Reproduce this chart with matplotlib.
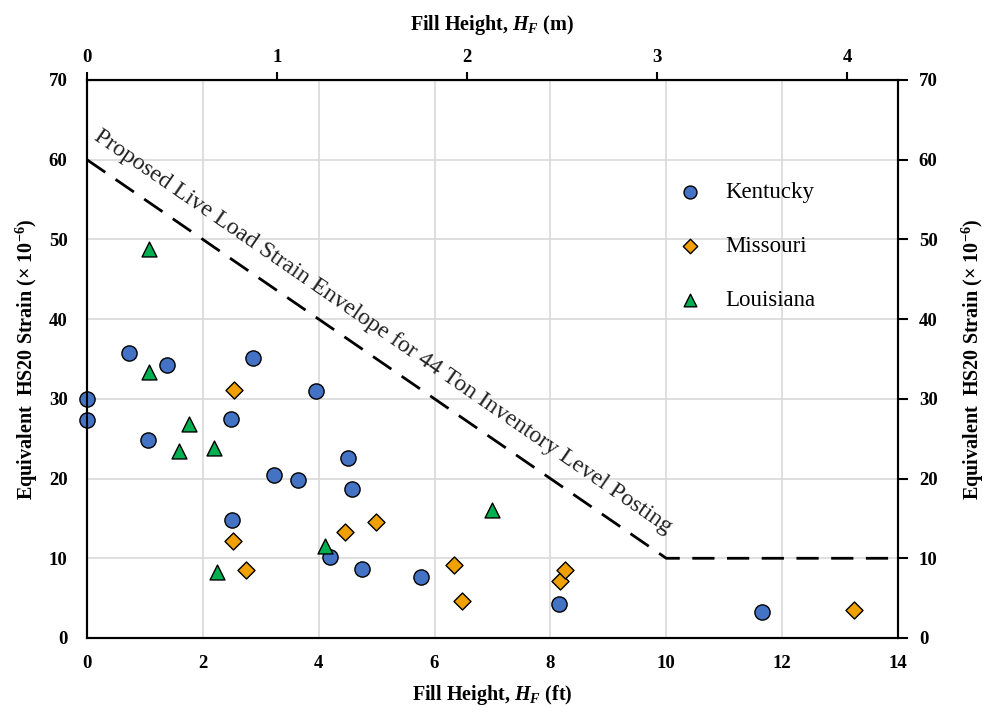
import matplotlib
matplotlib.use("Agg")
import matplotlib.pyplot as plt
import numpy as np

plt.rcParams['font.family'] = ['Liberation Serif', 'DejaVu Serif']
plt.rcParams['mathtext.fontset'] = 'custom'
plt.rcParams['mathtext.rm'] = 'Liberation Serif:bold'
plt.rcParams['mathtext.it'] = 'Liberation Serif:italic:bold'
plt.rcParams['mathtext.bf'] = 'Liberation Serif:bold'

# Data (fill height in ft, equivalent HS20 strain x1e-6)
ky_x = [0.0, 0.0, 0.73, 1.06, 1.39, 2.48, 2.50, 2.87, 3.22, 3.64, 3.95, 4.19, 4.50, 4.57, 4.74, 5.77, 8.15, 11.66]
ky_y = [30.0, 27.3, 35.7, 24.8, 34.2, 27.5, 14.8, 35.1, 20.4, 19.8, 31.0, 10.2, 22.6, 18.7, 8.6, 7.7, 4.3, 3.3]

mo_x = [2.54, 2.52, 2.74, 4.46, 4.99, 6.34, 6.48, 8.16, 8.26, 13.24]
mo_y = [31.1, 12.2, 8.5, 13.3, 14.6, 9.2, 4.6, 7.2, 8.5, 3.5]

la_x = [1.07, 1.07, 1.59, 1.76, 2.19, 2.24, 4.11, 6.99]
la_y = [48.8, 33.4, 23.5, 26.9, 23.8, 8.3, 11.5, 16.1]

env_x = [0, 10, 14]
env_y = [60, 10, 10]

x_ticks = [0, 2, 4, 6, 8, 10, 12, 14]
y_ticks = [0, 10, 20, 30, 40, 50, 60, 70]
m_ticks = [0, 1, 2, 3, 4]

FT2M = 0.3048
TICK_FS = 13.5
LABEL_FS = 14.5

fig = plt.figure(figsize=(9.94, 7.20), dpi=100)
ax = fig.add_axes([0.0875, 0.1139, 0.9034 - 0.0875, 0.8889 - 0.1139])

ax.set_xlim(0, 14)
ax.set_ylim(0, 70)
ax.set_xticks(x_ticks)
ax.set_yticks(y_ticks)
ax.grid(True, color='#d9d9d9', linewidth=1.2)
ax.set_axisbelow(True)
for s in ax.spines.values():
    s.set_linewidth(1.5)
    s.set_color('black')

ax.tick_params(axis='both', length=0)
ax.tick_params(axis='x', pad=12)
ax.tick_params(axis='y', pad=14)
for lbl in ax.get_xticklabels() + ax.get_yticklabels():
    lbl.set_fontsize(TICK_FS)
    lbl.set_fontweight('bold')

# envelope line
ax.plot(env_x, env_y, color='black', linewidth=2, dashes=(8, 4.5), zorder=3)

# envelope label
p0 = ax.transData.transform((0, 60))
p1 = ax.transData.transform((10, 10))
ang = np.degrees(np.arctan2(p1[1] - p0[1], p1[0] - p0[0]))
ax.text(0.1, 62.6, 'Proposed Live Load Strain Envelope for 44 Ton Inventory Level Posting',
        rotation=ang, rotation_mode='anchor', ha='left', va='baseline',
        fontsize=17.2, color='#222222')

ax.scatter(ky_x, ky_y, s=120, marker='o', facecolor='#4472C4', edgecolor='black',
           linewidth=1.0, zorder=4, label='Kentucky', clip_on=False)
ax.scatter(mo_x, mo_y, s=75, marker='D', facecolor='#F0A000', edgecolor='black',
           linewidth=1.0, zorder=4, label='Missouri', clip_on=False)
ax.scatter(la_x, la_y, s=115, marker='^', facecolor='#00B050', edgecolor='black',
           linewidth=1.0, zorder=4, label='Louisiana', clip_on=False)

leg = ax.legend(loc='upper left', bbox_to_anchor=(0.69, 0.855), frameon=False,
                fontsize=16.5, labelspacing=1.45, handletextpad=0.55, markerscale=0.85)

ax.set_xlabel(r'Fill Height, $H_F$ (ft)', fontsize=LABEL_FS, fontweight='bold', labelpad=8)
ax.set_ylabel(r'Equivalent  HS20 Strain (× 10$^{-6}$)', fontsize=LABEL_FS, fontweight='bold', labelpad=6)

# right axis
axr = ax.twinx()
axr.set_ylim(0, 70)
axr.set_yticks(y_ticks)
axr.tick_params(axis='y', direction='out', length=7, width=1.5, pad=8)
for lbl in axr.get_yticklabels():
    lbl.set_fontsize(TICK_FS)
    lbl.set_fontweight('bold')
axr.set_ylabel(r'Equivalent  HS20 Strain (× 10$^{-6}$)', fontsize=LABEL_FS, fontweight='bold',
               rotation=90, labelpad=16)
for s in axr.spines.values():
    s.set_linewidth(1.5)

# top axis (metres)
axt = ax.secondary_xaxis('top', functions=(lambda x: x * FT2M, lambda m: m / FT2M))
axt.set_xticks(m_ticks)
axt.tick_params(axis='x', direction='out', length=6, width=1.5, pad=4)
for lbl in axt.get_xticklabels():
    lbl.set_fontsize(TICK_FS)
    lbl.set_fontweight('bold')
axt.set_xlabel(r'Fill Height, $H_F$ (m)', fontsize=LABEL_FS, fontweight='bold', labelpad=14)

fig.savefig('out.png', dpi=100)
